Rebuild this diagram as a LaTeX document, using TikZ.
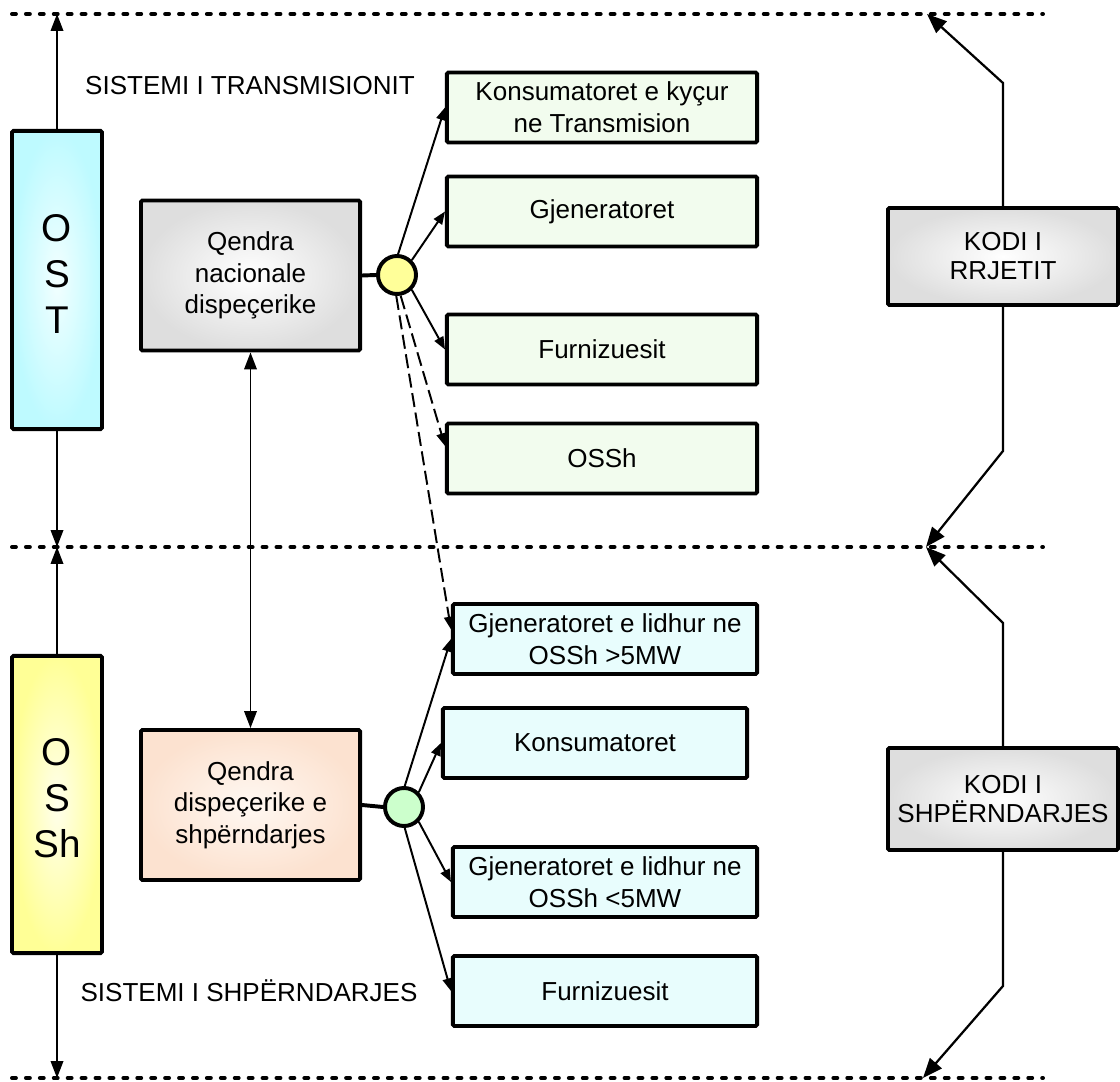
\documentclass[tikz,border=0pt]{standalone}
\usepackage{fontspec}
\setmainfont{Liberation Sans}
\usetikzlibrary{arrows.meta,calc}
\definecolor{ostcyan}{RGB}{190,250,255}
\definecolor{ostinner}{RGB}{242,255,255}
\definecolor{osshyellow}{RGB}{255,255,150}
\definecolor{osshinner}{RGB}{255,255,236}
\definecolor{centgray}{RGB}{222,222,222}
\definecolor{peach}{RGB}{252,226,208}
\definecolor{peachin}{RGB}{255,248,242}
\definecolor{tgreen}{RGB}{242,252,238}
\definecolor{dcyan}{RGB}{232,253,253}
\definecolor{hubyellow}{RGB}{255,255,153}
\definecolor{hubgreen}{RGB}{204,255,204}

\begin{document}
\begin{tikzpicture}[
		x=0.025cm,y=-0.025cm,
		>={Triangle[length=12pt,width=9pt]},
		font=\fontsize{18.5}{22.5}\selectfont,
		boundary/.style={
			line width=2.8pt,
			dash pattern=on 2.8pt off 7.1pt,
			line cap=round
		},
		box/.style={
			draw,
			line width=2.8pt,
			rounded corners=1pt,
			align=center,
			inner sep=0pt
		},
		operator/.style={
			box,
			minimum width=2.25cm,
			minimum height=7.45cm,
			text depth=9pt,
			font=\fontsize{27.5}{32.6}\selectfont
		},
		centre/.style={
			box,
			minimum width=5.475cm,
			minimum height=3.75cm
		},
		codebox/.style={
			box,
			minimum width=5.75cm,
			shading=radial,
			inner color=white,
			outer color=centgray,
			font=\fontsize{18.5}{20.6}\selectfont
		},
		tbox/.style={
			box,
			fill=tgreen,
			minimum width=7.75cm,
			minimum height=1.75cm
		},
		dbox/.style={
			box,
			fill=dcyan,
			minimum width=7.6cm,
			minimum height=1.75cm
		},
		hub/.style={
			circle,
			draw,
			line width=2.8pt,
			minimum size=0.95cm,
			inner sep=0pt
		},
		link/.style={
			-{Triangle[length=9pt,width=7pt]},
			line width=1.4pt
		},
		dashlink/.style={
			link,
			dash pattern=on 10pt off 4pt
		},
		feed/.style={
			->,
			line width=0.9pt
		},
		codelink/.style={
			-{Triangle[length=14pt,width=11pt]},
			line width=1.6pt
		}
		]
		\useasboundingbox (0,0) rectangle (1120,1082);
		\coordinate (topL) at (12,14);
		\coordinate (topR) at (1043,14);
		\coordinate (midL) at (12,547);
		\coordinate (midR) at (1043,547);
		\coordinate (botL) at (12,1078);
		\coordinate (botR) at (1043,1078);
		\coordinate (kup) at (927,14);
		\coordinate (kmid) at (926,547);
		\coordinate (kdn) at (923,1078);
		\draw[boundary] (topL) -- (topR);
		\draw[boundary] (midL) -- (midR);
		\draw[boundary] (botL) -- (botR);

		\node[operator,shading=radial,inner color=ostinner,outer color=ostcyan] (ost) at (57,280) {O\\S\\T};
		\node[operator,minimum height=7.425cm,shading=radial,inner color=osshinner,outer color=osshyellow] (ossh) at (57,804.5) {O\\S\\Sh};
		\node[centre,shading=radial,inner color=white,outer color=centgray] (qn) at (250.5,275.5) {Qendra\\nacionale\\dispeçerike};
		\node[centre,shading=radial,inner color=peachin,outer color=peach] (qd) at (250.5,805) {Qendra\\dispeçerike e\\shpërndarjes};
		\node (st) at (250,86) {SISTEMI I TRANSMISIONIT};
		\node (sd) at (249,991) {SISTEMI I SHPËRNDARJES};

		\node[hub,fill=hubyellow] (hy) at (397,275) {};
		\node[hub,fill=hubgreen] (hg) at (404,807) {};

		\node[tbox] (t1) at (602,107.5) {Konsumatoret e kyçur\\ne Transmision};
		\node[tbox] (t2) at (602,211.5) {Gjeneratoret};
		\node[tbox] (t3) at (602,349.5) {Furnizuesit};
		\node[tbox] (t4) at (602,458.5) {OSSh};
		\node[dbox] (d1) at (605,639) {Gjeneratoret e lidhur ne\\OSSh >5MW};
		\node[dbox] (d2) at (595,743) {Konsumatoret};
		\node[dbox] (d3) at (605,882) {Gjeneratoret e lidhur ne\\OSSh <5MW};
		\node[dbox] (d4) at (605,991) {Furnizuesit};

		\node[codebox,minimum height=2.425cm] (kr) at (1003,256.5) {KODI I\\RRJETIT};
		\node[codebox,minimum height=2.55cm] (ks) at (1003,799) {KODI I\\SHPËRNDARJES};

		\draw[line width=2.8pt] (qn.east) -- (hy.west);
		\draw[line width=2.8pt] (qd.east) -- (hg.west);
		\draw[link] (hy.87) -- (t1.west);
		\draw[link] (hy.45) -- (t2.west);
		\draw[link] (hy.-45) -- (t3.west);
		\draw[dashlink] (hy.-80) -- ($(t4.north west)!0.33!(t4.south west)$);
		\draw[dashlink] (hy.-92) -- ($(d1.north west)!0.37!(d1.south west)$);
		\draw[link] (hg.88) -- (d1.west);
		\draw[link] (hg.45) -- (d2.west);
		\draw[link] (hg.-45) -- (d3.west);
		\draw[link] (hg.-88) -- (d4.west);

		\draw[feed] (ost.north) -- (ost.north |- topL);
		\draw[feed] (ost.south) -- (ost.south |- midL);
		\draw[feed] (ossh.north) -- (ossh.north |- midL);
		\draw[feed] (ossh.south) -- (ossh.south |- botL);
		\draw[feed,<->] (qn.south) -- (qd.north);

		\draw[codelink] (kr.north) -- ++(0,-123) -- (kup);
		\draw[codelink] (kr.south) -- ++(0,144) -- (kmid);
		\draw[codelink] (ks.north) -- ++(0,-123) -- (kmid);
		\draw[codelink] (ks.south) -- ++(0,134) -- (kdn);
		\end{tikzpicture}
\end{document}
